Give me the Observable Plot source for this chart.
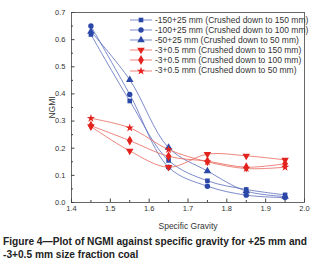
<!DOCTYPE html>
<html><head><meta charset="utf-8">
<script src="https://cdn.jsdelivr.net/npm/d3@7"></script>
<script src="https://cdn.jsdelivr.net/npm/@observablehq/plot@0.6"></script>
<style>
body{margin:0;background:#fff;width:320px;height:271px;overflow:hidden;font-family:"Liberation Sans",Arial,sans-serif}
#wrap{position:relative;width:320px}
#legend{position:absolute;left:130px;top:15px;font-size:8.5px;color:#333;line-height:10.1px}
#legend div{display:flex;align-items:center;height:10.1px;white-space:nowrap}
#legend svg{margin-right:3px}
#cap{font-family:"Liberation Sans",Arial,sans-serif;font-weight:bold;font-size:11.5px;line-height:12.5px;color:#222;padding-left:3px;margin-top:3px}
#cap div{white-space:nowrap}
#cap span{display:inline-block;transform-origin:0 50%}
</style></head><body>
<div id="wrap"><div id="chart"></div><div id="legend"></div></div>
<div id="cap"></div>
<script>
const sg = [1.45, 1.55, 1.65, 1.75, 1.85, 1.95];
const seriesNames = [
  "-150+25 mm (Crushed down to 150 mm)",
  "-100+25 mm (Crushed down to 100 mm)",
  "-50+25 mm (Crushed down to 50 mm)",
  "-3+0.5 mm (Crushed down to 150 mm)",
  "-3+0.5 mm (Crushed down to 100 mm)",
  "-3+0.5 mm (Crushed down to 50 mm)"
];
const s150_25 = [0.619, 0.374, 0.155, 0.080, 0.048, 0.028];
const s100_25 = [0.650, 0.398, 0.130, 0.060, 0.027, 0.018];
const s50_25  = [0.630, 0.452, 0.202, 0.116, 0.042, 0.022];
const s3_150  = [0.280, 0.190, 0.130, 0.178, 0.172, 0.157];
const s3_100  = [0.283, 0.228, 0.170, 0.152, 0.130, 0.143];
const s3_50   = [0.310, 0.275, 0.195, 0.150, 0.125, 0.130];
const xTicks = [1.4, 1.5, 1.6, 1.7, 1.8, 1.9, 2.0];
const yTicks = [0.0, 0.1, 0.2, 0.3, 0.4, 0.5, 0.6, 0.7];
const xMinor = [1.45, 1.55, 1.65, 1.75, 1.85, 1.95];
const yMinor = [0.05, 0.15, 0.25, 0.35, 0.45, 0.55, 0.65];
const caption = ["Figure 4\u2014Plot of NGMI against specific gravity for +25 mm and", "-3+0.5 mm size fraction coal"];

const allValues = [s150_25, s100_25, s50_25, s3_150, s3_100, s3_50];
const symbols = ["square", "circle", "triangle", "triangle", "diamond", "star"];
const rotates = [0, 0, 0, 180, 0, 0];
const rs = [2.6, 2.7, 2.8, 2.8, 3.0, 2.6];
const blueDot = "#2b48a8", blueLine = "#5b6cbc";
const redDot = "#e3231e", redLine = "#e8665c";
const dotColors = [blueDot, blueDot, blueDot, redDot, redDot, redDot];
const lineColors = [blueLine, blueLine, blueLine, redLine, redLine, redLine];

const data = [];
allValues.forEach((vals, i) => vals.forEach((v, j) => data.push({s: i, x: sg[j], y: v})));

const marks = [Plot.frame({stroke: "#444", strokeWidth: 0.8})];
for (let i = 0; i < 6; i++) {
  const d = data.filter(e => e.s === i);
  marks.push(Plot.line(d, {x: "x", y: "y", curve: "catmull-rom", stroke: lineColors[i], strokeWidth: 0.8}));
}
for (let i = 0; i < 6; i++) {
  const d = data.filter(e => e.s === i);
  marks.push(Plot.dot(d, {x: "x", y: "y", symbol: () => symbols[i], r: rs[i], fill: dotColors[i], stroke: "none", rotate: rotates[i]}));
}
marks.push(
  Plot.axisX({ticks: xTicks, tickSize: 0, tickPadding: 3, tickFormat: d3.format(".1f"), fontSize: 7.5, label: null, color: "#333"}),
  Plot.axisY({ticks: yTicks, tickSize: 0, tickPadding: 6, tickFormat: d3.format(".1f"), fontSize: 7.5, label: null, color: "#333"}),
  Plot.axisX({ticks: xTicks, tickSize: -3.5, tickFormat: () => "", label: "Specific Gravity", labelAnchor: "center", labelArrow: "none", labelOffset: 26, fontSize: 8.5, color: "#333", stroke: "#444"}),
  Plot.axisX({ticks: xMinor, tickSize: -2, tickFormat: () => "", label: null, stroke: "#444"}),
  Plot.axisY({ticks: yTicks, tickSize: -3.5, tickFormat: () => "", label: "NGMI", labelAnchor: "center", labelArrow: "none", labelOffset: 23, fontSize: 8.5, color: "#333", stroke: "#444"}),
  Plot.axisY({ticks: yMinor, tickSize: -2, tickFormat: () => "", label: null, stroke: "#444"})
);

const chart = Plot.plot({
  width: 320, height: 232,
  marginLeft: 71, marginRight: 16, marginTop: 12, marginBottom: 30,
  x: {domain: [1.4, 2.0]},
  y: {domain: [0, 0.7]},
  style: {fontFamily: "Liberation Sans, Arial, sans-serif", fontSize: "7.5px", background: "white"},
  marks
});
document.getElementById("chart").appendChild(chart);

const leg = document.getElementById("legend");
seriesNames.forEach((name, i) => {
  const row = document.createElement("div");
  const svg = d3.create("svg").attr("width", 22).attr("height", 10);
  svg.append("line").attr("x1", 0).attr("x2", 22).attr("y1", 5).attr("y2", 5).attr("stroke", lineColors[i]).attr("stroke-width", 0.8);
  const symMap = {square: d3.symbolSquare, circle: d3.symbolCircle, triangle: d3.symbolTriangle, diamond: d3.symbolDiamond, star: d3.symbolStar};
  const area = Math.PI * rs[i] * rs[i];
  svg.append("path").attr("d", d3.symbol(symMap[symbols[i]], area)()).attr("transform", `translate(11,5) rotate(${rotates[i]})`).attr("fill", dotColors[i]);
  row.appendChild(svg.node());
  const t = document.createElement("span");
  t.textContent = name;
  row.appendChild(t);
  leg.appendChild(row);
});
const cap = document.getElementById("cap");
const capDivs = caption.map(l => { const d = document.createElement("div"); const s = document.createElement("span"); s.textContent = l; d.appendChild(s); cap.appendChild(d); return s; });
const w0 = capDivs[0].getBoundingClientRect().width;
const k = 304 / w0;
capDivs.forEach(s => s.style.transform = `scaleX(${k})`);
</script>
</body></html>
